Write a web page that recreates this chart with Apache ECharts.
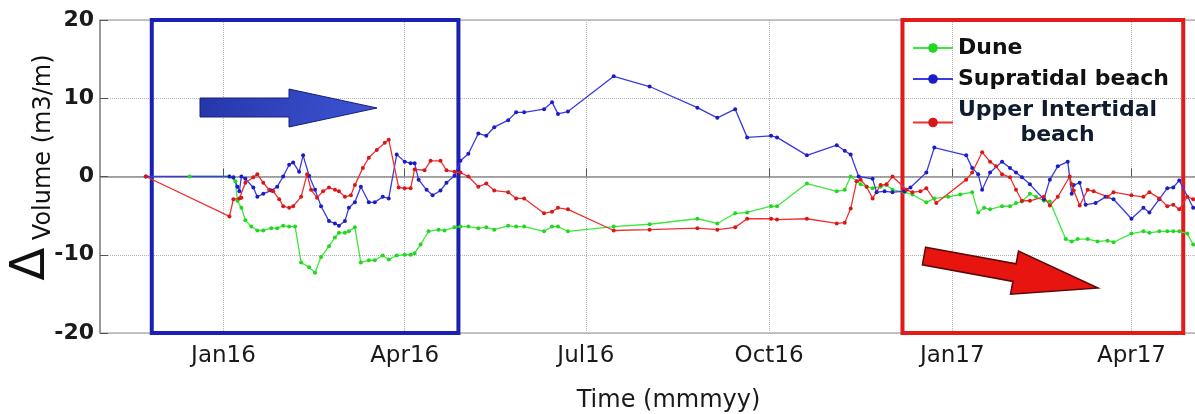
<!DOCTYPE html>
<html>
<head>
<meta charset="utf-8">
<script src="https://cdn.jsdelivr.net/npm/echarts@6.0.0/dist/echarts.min.js"></script>
<style>
  html, body { margin: 0; padding: 0; background: #fff; }
  #main { width: 1195px; height: 414px; }
</style>
</head>
<body>
<div id="main"></div>
<script>
// tick positions on the time axis and their labels
var tickDates = ['2016-01-01', '2016-04-01', '2016-07-01', '2016-10-01', '2017-01-01', '2017-04-01'];
var tickLabels = ['Jan16', 'Apr16', 'Jul16', 'Oct16', 'Jan17', 'Apr17'];

// highlighted periods (blue box and red box)
var blueBox = ['2015-11-26', '2016-04-28'];
var redBox = ['2016-12-07', '2017-04-27'];

// Dune
var duneData = [
  ['2015-12-15', 0], ['2016-01-04', 0], ['2016-01-07', -0.6], ['2016-01-08', -3.1], ['2016-01-10', -4.0],
  ['2016-01-12', -5.6], ['2016-01-15', -6.4], ['2016-01-18', -6.9], ['2016-01-21', -6.9], ['2016-01-25', -6.6],
  ['2016-01-28', -6.6], ['2016-01-31', -6.3], ['2016-02-03', -6.4], ['2016-02-06', -6.4], ['2016-02-09', -11.0],
  ['2016-02-13', -11.6], ['2016-02-16', -12.3], ['2016-02-19', -10.3], ['2016-02-23', -8.9], ['2016-02-26', -7.8],
  ['2016-02-28', -7.2], ['2016-03-02', -7.2], ['2016-03-04', -7.0], ['2016-03-07', -6.5], ['2016-03-10', -11.0],
  ['2016-03-14', -10.7], ['2016-03-17', -10.7], ['2016-03-21', -10.1], ['2016-03-24', -10.6], ['2016-03-28', -10.1],
  ['2016-04-01', -10.0], ['2016-04-04', -10.0], ['2016-04-06', -9.8], ['2016-04-09', -8.7], ['2016-04-13', -7.0],
  ['2016-04-18', -6.8], ['2016-04-21', -6.9], ['2016-04-26', -6.5], ['2016-04-29', -6.4], ['2016-05-03', -6.4],
  ['2016-05-08', -6.6], ['2016-05-12', -6.5], ['2016-05-16', -6.8], ['2016-05-23', -6.3], ['2016-05-27', -6.4],
  ['2016-05-31', -6.4], ['2016-06-10', -7.0], ['2016-06-14', -6.4], ['2016-06-17', -6.4], ['2016-06-22', -7.0],
  ['2016-07-15', -6.4], ['2016-08-02', -6.1], ['2016-08-26', -5.4], ['2016-09-05', -6.0], ['2016-09-14', -4.7],
  ['2016-09-20', -4.6], ['2016-10-02', -3.8], ['2016-10-05', -3.8], ['2016-10-20', -0.9], ['2016-11-04', -1.9],
  ['2016-11-08', -1.7], ['2016-11-11', 0], ['2016-11-14', -0.6], ['2016-11-16', -1.0], ['2016-11-19', -1.3],
  ['2016-11-22', -1.5], ['2016-11-26', -1.3], ['2016-11-29', -1.1], ['2016-12-02', -1.7], ['2016-12-08', -2.0],
  ['2016-12-12', -2.3], ['2016-12-19', -3.3], ['2016-12-23', -2.8], ['2016-12-30', -2.6], ['2017-01-05', -2.3],
  ['2017-01-11', -2.0], ['2017-01-14', -4.6], ['2017-01-17', -4.0], ['2017-01-20', -4.2], ['2017-01-26', -3.8],
  ['2017-01-30', -3.8], ['2017-02-02', -3.4], ['2017-02-05', -3.2], ['2017-02-09', -2.2], ['2017-02-12', -2.6],
  ['2017-02-16', -3.1], ['2017-02-19', -3.2], ['2017-02-27', -8.0], ['2017-03-02', -8.3], ['2017-03-05', -8.0],
  ['2017-03-10', -8.0], ['2017-03-15', -8.3], ['2017-03-20', -8.2], ['2017-03-23', -8.4], ['2017-04-01', -7.3],
  ['2017-04-07', -7.0], ['2017-04-10', -7.2], ['2017-04-15', -7.0], ['2017-04-19', -7.0], ['2017-04-22', -7.0],
  ['2017-04-25', -7.0], ['2017-04-29', -7.3], ['2017-05-02', -8.7]
];

// Supratidal beach
var supraData = [
  ['2015-11-23', 0], ['2016-01-04', 0], ['2016-01-06', -0.1], ['2016-01-08', -1.3], ['2016-01-09', -1.9],
  ['2016-01-10', 0], ['2016-01-12', -0.3], ['2016-01-16', -1.4], ['2016-01-18', -2.6], ['2016-01-21', -2.2],
  ['2016-01-25', -1.8], ['2016-01-28', -1.3], ['2016-01-31', 0], ['2016-02-03', 1.5], ['2016-02-05', 1.8],
  ['2016-02-08', 0.6], ['2016-02-10', 2.7], ['2016-02-13', 0.1], ['2016-02-16', -1.7], ['2016-02-19', -3.8],
  ['2016-02-23', -5.7], ['2016-02-26', -6.0], ['2016-02-28', -6.3], ['2016-03-02', -5.7], ['2016-03-04', -4.0],
  ['2016-03-07', -3.3], ['2016-03-10', -1.3], ['2016-03-14', -3.3], ['2016-03-17', -3.3], ['2016-03-21', -2.6],
  ['2016-03-24', -2.8], ['2016-03-28', 2.8], ['2016-04-01', 1.9], ['2016-04-04', 1.7], ['2016-04-06', 1.7],
  ['2016-04-08', -0.4], ['2016-04-12', -1.7], ['2016-04-15', -2.4], ['2016-04-19', -1.8], ['2016-04-22', -0.8],
  ['2016-04-26', 0.1], ['2016-04-29', 2.0], ['2016-05-03', 2.9], ['2016-05-08', 5.5], ['2016-05-12', 5.2],
  ['2016-05-16', 6.3], ['2016-05-23', 7.2], ['2016-05-27', 8.2], ['2016-05-31', 8.2], ['2016-06-10', 8.6],
  ['2016-06-14', 9.5], ['2016-06-17', 8.0], ['2016-06-22', 8.3], ['2016-07-15', 12.8], ['2016-08-02', 11.5],
  ['2016-08-26', 8.8], ['2016-09-05', 7.5], ['2016-09-14', 8.6], ['2016-09-20', 5.0], ['2016-10-02', 5.2],
  ['2016-10-05', 5.0], ['2016-10-20', 2.7], ['2016-11-04', 4.0], ['2016-11-08', 3.3], ['2016-11-11', 2.8],
  ['2016-11-15', 0], ['2016-11-22', -0.3], ['2016-11-24', -2.0], ['2016-11-28', -1.9], ['2016-12-02', -2.0],
  ['2016-12-08', -1.9], ['2016-12-11', -1.4], ['2016-12-19', 0.5], ['2016-12-23', 3.7], ['2017-01-08', 2.7],
  ['2017-01-11', 1.1], ['2017-01-14', 0.3], ['2017-01-16', -1.7], ['2017-01-20', 0.5], ['2017-01-26', 1.9],
  ['2017-01-30', 1.1], ['2017-02-02', 0.5], ['2017-02-05', -0.1], ['2017-02-09', -1.0], ['2017-02-16', -2.9],
  ['2017-02-19', -0.4], ['2017-02-23', 1.3], ['2017-02-28', 1.9], ['2017-03-02', -2.2], ['2017-03-03', -1.1],
  ['2017-03-06', -0.8], ['2017-03-09', -3.6], ['2017-03-14', -3.4], ['2017-03-19', -2.6], ['2017-03-23', -2.9],
  ['2017-04-01', -5.4], ['2017-04-07', -4.0], ['2017-04-10', -4.6], ['2017-04-15', -2.9], ['2017-04-19', -1.5],
  ['2017-04-22', -1.4], ['2017-04-25', -0.5], ['2017-05-02', -4.0]
];

// Upper Intertidal beach
var upperData = [
  ['2015-11-23', 0], ['2016-01-04', -5.1], ['2016-01-06', -2.9], ['2016-01-09', -2.8], ['2016-01-10', -2.7],
  ['2016-01-12', -0.8], ['2016-01-16', -0.1], ['2016-01-18', 0.3], ['2016-01-21', -0.8], ['2016-01-24', -1.7],
  ['2016-01-26', -1.9], ['2016-01-29', -2.9], ['2016-01-31', -3.8], ['2016-02-03', -4.0], ['2016-02-05', -3.8],
  ['2016-02-09', -2.6], ['2016-02-12', 0.3], ['2016-02-14', -1.7], ['2016-02-17', -2.7], ['2016-02-20', -1.9],
  ['2016-02-23', -1.4], ['2016-02-26', -1.7], ['2016-02-28', -1.9], ['2016-03-02', -2.6], ['2016-03-05', -2.4],
  ['2016-03-07', -1.1], ['2016-03-11', 1.1], ['2016-03-14', 2.4], ['2016-03-18', 3.4], ['2016-03-22', 4.3],
  ['2016-03-24', 4.7], ['2016-03-29', -1.4], ['2016-04-01', -1.5], ['2016-04-04', -1.5], ['2016-04-06', 0.9],
  ['2016-04-11', 0.8], ['2016-04-14', 2.0], ['2016-04-19', 2.0], ['2016-04-22', 0.8], ['2016-04-26', 0.6],
  ['2016-04-29', 0.5], ['2016-05-03', 0], ['2016-05-08', -1.3], ['2016-05-12', -0.9], ['2016-05-16', -1.8],
  ['2016-05-23', -2.0], ['2016-05-27', -2.8], ['2016-05-31', -2.8], ['2016-06-10', -4.7], ['2016-06-14', -4.5],
  ['2016-06-17', -4.0], ['2016-06-22', -4.2], ['2016-07-15', -6.9], ['2016-08-02', -6.8], ['2016-08-26', -6.6],
  ['2016-09-05', -6.8], ['2016-09-14', -6.5], ['2016-09-20', -5.4], ['2016-10-02', -5.4], ['2016-10-05', -5.5],
  ['2016-10-20', -5.4], ['2016-11-04', -6.0], ['2016-11-08', -5.9], ['2016-11-11', -4.1], ['2016-11-14', -0.6],
  ['2016-11-16', -0.4], ['2016-11-19', -1.3], ['2016-11-22', -2.8], ['2016-11-26', -1.1], ['2016-11-29', -1.0],
  ['2016-12-02', 0], ['2016-12-09', -1.7], ['2016-12-12', -2.0], ['2016-12-16', -1.9], ['2016-12-19', -1.5],
  ['2016-12-24', -3.4], ['2017-01-08', -0.4], ['2017-01-11', 0.5], ['2017-01-16', 3.1], ['2017-01-20', 1.9],
  ['2017-01-23', 1.3], ['2017-01-26', 0.3], ['2017-01-30', -0.1], ['2017-02-02', -1.7], ['2017-02-05', -3.1],
  ['2017-02-09', -3.1], ['2017-02-16', -2.6], ['2017-02-19', -3.7], ['2017-02-23', -2.6], ['2017-03-01', 0],
  ['2017-03-02', -1.0], ['2017-03-03', -1.8], ['2017-03-06', -3.7], ['2017-03-10', -1.7], ['2017-03-13', -1.9],
  ['2017-03-20', -2.6], ['2017-03-23', -2.0], ['2017-04-01', -2.4], ['2017-04-07', -2.6], ['2017-04-10', -2.0],
  ['2017-04-15', -2.8], ['2017-04-19', -3.8], ['2017-04-22', -3.6], ['2017-04-25', -4.2], ['2017-04-29', -2.6],
  ['2017-05-02', -2.9]
];

function toTime(s) {
  var p = s.split('-');
  return new Date(+p[0], +p[1] - 1, +p[2]).getTime();
}
function toPoints(arr) {
  return arr.map(function (d) { return [toTime(d[0]), d[1]]; });
}
var tickTimes = tickDates.map(toTime);

var chart = echarts.init(document.getElementById('main'));

var font = 'DejaVu Sans';

var option = {
  backgroundColor: '#fff',
  animation: false,
  grid: {
    left: 100,
    right: -42,
    top: 20,
    bottom: 81,
    outerBoundsMode: 'none',
    containLabel: false,
    show: true,
    borderColor: '#8c8c8c',
    borderWidth: 1
  },
  legend: {
    data: ['Dune', 'Supratidal beach', 'Upper Intertidal beach'],
    orient: 'vertical',
    left: 907,
    top: 32,
    itemWidth: 40,
    itemHeight: 12,
    itemGap: 9,
    selectedMode: false,
    textStyle: {
      fontFamily: font,
      fontSize: 22,
      fontWeight: 'bold',
      color: '#111',
      rich: {
        u: { fontFamily: font, fontSize: 22, fontWeight: 'bold', color: '#101c2e', lineHeight: 25 },
        b: { fontFamily: font, fontSize: 22, fontWeight: 'bold', color: '#101c2e', lineHeight: 25, align: 'center' }
      }
    },
    formatter: function (name) {
      if (name === 'Upper Intertidal beach') {
        return '{u|Upper Intertidal}\n{b|beach}';
      }
      return name;
    }
  },
  xAxis: {
    type: 'value',
    min: toTime('2015-10-31'),
    max: toTime('2017-05-24'),
    name: 'Time (mmmyy)',
    nameLocation: 'middle',
    nameGap: 56,
    nameMoveOverlap: false,
    nameTextStyle: { fontFamily: font, fontSize: 24, color: '#1a1a1a' },
    axisLine: { lineStyle: { color: '#8c8c8c', width: 1.5 } },
    axisTick: {
      inside: true,
      length: 8,
      customValues: tickTimes,
      lineStyle: { color: '#555' }
    },
    axisLabel: {
      customValues: tickTimes,
      margin: 12,
      fontFamily: font,
      fontSize: 23,
      color: '#1a1a1a',
      formatter: function (val) {
        var i = tickTimes.indexOf(val);
        return i >= 0 ? tickLabels[i] : '';
      }
    },
    splitLine: {
      show: true,
      lineStyle: { color: '#b4b4b4', type: 'dotted', width: 1 }
    }
  },
  yAxis: {
    type: 'value',
    min: -20,
    max: 20,
    interval: 10,
    name: '{d|Δ}{v| Volume (m3/m)}',
    nameLocation: 'middle',
    nameGap: 44,
    nameMoveOverlap: false,
    nameTextStyle: {
      fontFamily: font,
      fontSize: 24,
      color: '#111',
      padding: [0, 0, 0, 18],
      rich: {
        d: { fontFamily: font, fontSize: 48, color: '#111', verticalAlign: 'bottom', lineHeight: 48 },
        v: { fontFamily: font, fontSize: 24, color: '#111', verticalAlign: 'bottom', lineHeight: 34 }
      }
    },
    axisLine: { show: true, lineStyle: { color: '#8c8c8c', width: 1.5 } },
    axisTick: { show: true, inside: true, length: 8, lineStyle: { color: '#555' } },
    axisLabel: {
      margin: 6,
      fontFamily: font,
      fontSize: 22,
      fontWeight: 'bold',
      color: '#1a1a1a'
    },
    splitLine: {
      show: true,
      lineStyle: { color: '#b4b4b4', type: 'dotted', width: 1 }
    }
  },
  series: [
    {
      name: 'Dune',
      type: 'line',
      data: toPoints(duneData),
      symbol: 'circle',
      symbolSize: 4,
      itemStyle: { color: '#22d622' },
      lineStyle: { color: '#3ce83c', width: 1.3 }
    },
    {
      name: 'Supratidal beach',
      type: 'line',
      data: toPoints(supraData),
      symbol: 'circle',
      symbolSize: 4,
      itemStyle: { color: '#1c1cc4' },
      lineStyle: { color: '#3a3ae2', width: 1.3 }
    },
    {
      name: 'Upper Intertidal beach',
      type: 'line',
      data: toPoints(upperData),
      symbol: 'circle',
      symbolSize: 4,
      itemStyle: { color: '#d81818' },
      lineStyle: { color: '#ee3030', width: 1.3 }
    },
    {
      // the two highlighted periods
      name: 'boxes',
      type: 'line',
      data: [],
      z: 5,
      silent: true,
      markArea: {
        silent: true,
        data: [
          [
            { xAxis: toTime(blueBox[0]), yAxis: 20, itemStyle: { color: 'rgba(0,0,0,0)', borderColor: '#1a20b4', borderWidth: 4 } },
            { xAxis: toTime(blueBox[1]), yAxis: -20 }
          ],
          [
            { xAxis: toTime(redBox[0]), yAxis: 20, itemStyle: { color: 'rgba(0,0,0,0)', borderColor: '#e21a1a', borderWidth: 4 } },
            { xAxis: toTime(redBox[1]), yAxis: -20 }
          ]
        ]
      }
    }
  ],
  graphic: [
    {
      // blue arrow
      type: 'polygon',
      z: 10,
      shape: { points: [[200, 98], [289, 98], [289, 89], [377, 108], [289, 127], [289, 117], [200, 117]] },
      style: {
        fill: new echarts.graphic.LinearGradient(0, 0, 1, 1, [
          { offset: 0, color: '#2536a8' },
          { offset: 1, color: '#3f55d6' }
        ]),
        stroke: '#172079',
        lineWidth: 1
      }
    },
    {
      // red arrow
      type: 'polygon',
      z: 10,
      shape: { points: [[925.6, 247.2], [1016.1, 263.8], [1018.5, 251], [1098, 288], [1010.5, 294.2], [1012.9, 281.4], [922.4, 264.8]] },
      style: { fill: '#e81410', stroke: '#5a0a0a', lineWidth: 1.5 }
    }
  ]
};

chart.setOption(option);
</script>
</body>
</html>
